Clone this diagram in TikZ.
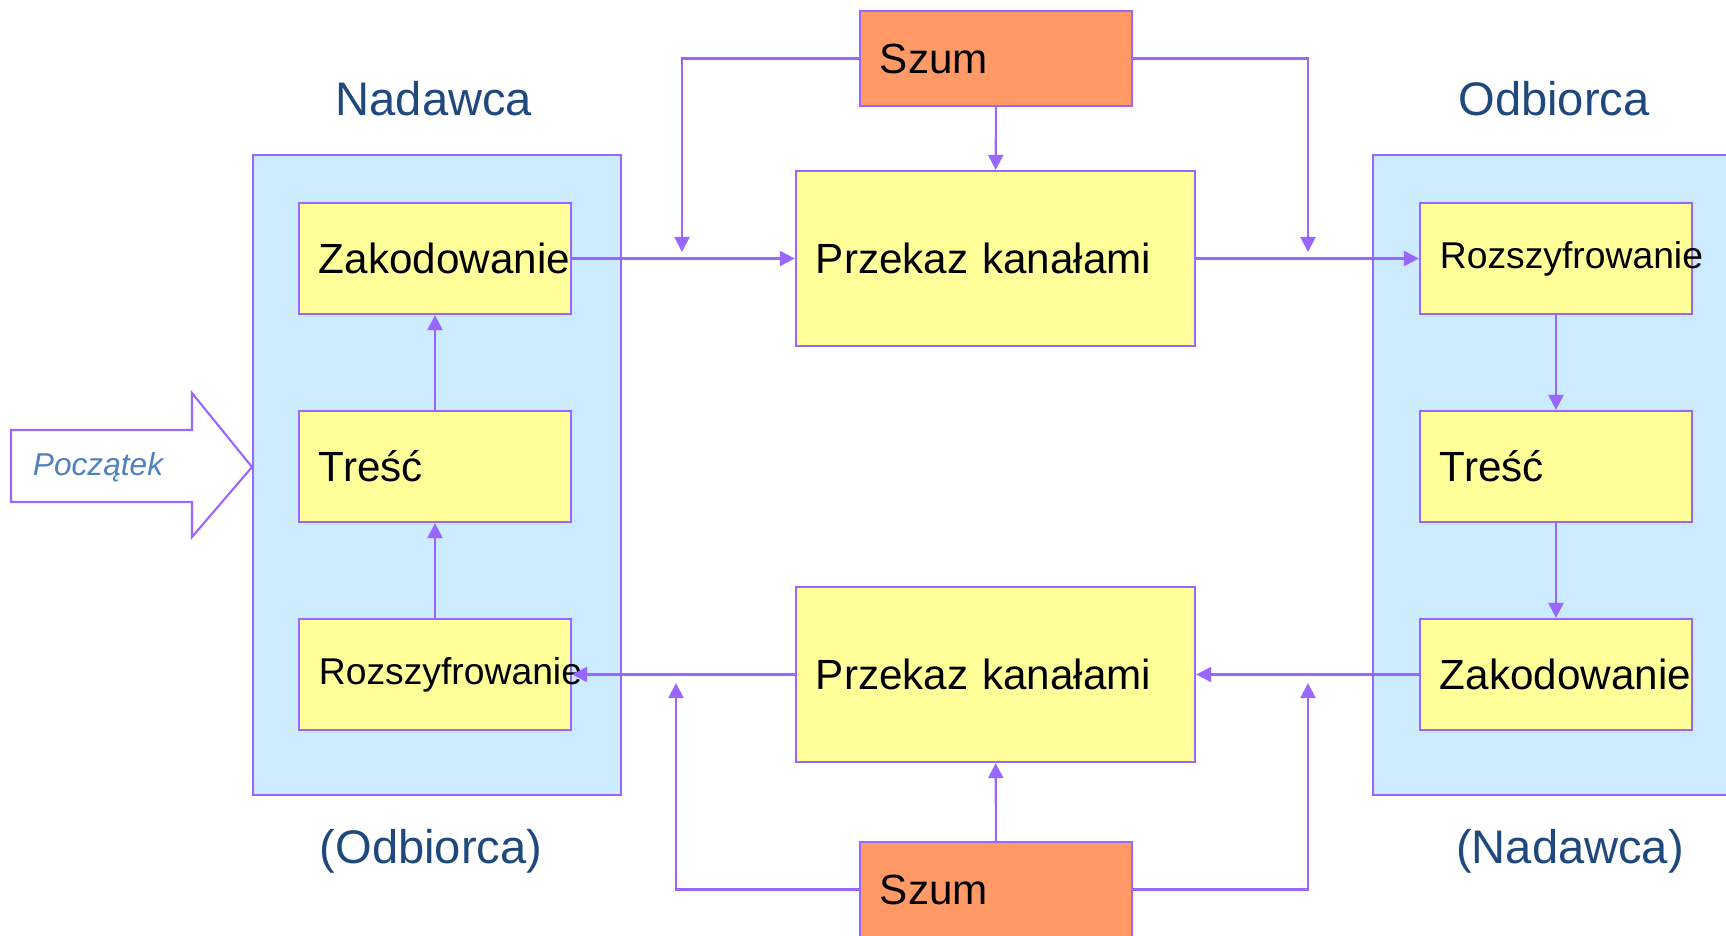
\documentclass[tikz,border=0pt]{standalone}
\usepackage{fontspec}
\setmainfont{Liberation Sans}
\usetikzlibrary{arrows.meta}

\definecolor{linia}{HTML}{9966FF}
\definecolor{panel}{HTML}{CCEBFF}
\definecolor{pole}{HTML}{FFFF99}
\definecolor{szumkol}{HTML}{FF9966}
\definecolor{tytul}{HTML}{1F497D}
\definecolor{startkol}{HTML}{4F81BD}

\begin{document}
\begin{tikzpicture}[x=0.01cm,y=-0.01cm,line width=0.6pt,
    >={Triangle[length=0.15cm,width=0.15cm]},
    panelbox/.style={draw=linia,fill=panel,anchor=north west,inner sep=0pt,
      minimum width=3.68cm,minimum height=6.4cm},
    krok/.style={draw=linia,fill=pole,minimum height=1.11cm,text width=2.32cm,
      inner xsep=0.2cm,inner ysep=0pt,align=left,font=\fontsize{12}{14}\selectfont},
    kanal/.style={krok,minimum height=1.75cm,text width=3.59cm},
    szumbox/.style={krok,fill=szumkol,minimum height=0.95cm},
    tytulek/.style={text=tytul,font=\fontsize{13.4}{16}\selectfont},
    strz/.style={draw=linia,->}]
  \useasboundingbox (0,0) rectangle (1726,936);
  \clip (0,0) rectangle (1726,936);

  % Panele nadawcy i odbiorcy
  \node[panelbox] (panelL) at (252,154) {};
  \node[panelbox] (panelR) at (1372,154) {};
  \node[tytulek] (nad) at (434,99) {Nadawca};
  \node[tytulek] (odb) at (1554,99) {Odbiorca};
  \node[tytulek] (odb2) at (431,851) {(Odbiorca)};
  \node[tytulek] (nad2) at (1570,851) {(Nadawca)};

  % Kroki po lewej
  \node[krok] (zakL) at (435,258.5) {Zakodowanie};
  \node[krok] (trescL) at (435,466.5) {Treść};
  \node[krok,font=\fontsize{10.6}{13}\selectfont] (rozL) at (435,674.5) {Rozszyfrowanie};
  % Kroki po prawej
  \node[krok,font=\fontsize{10.6}{13}\selectfont] (rozR) at (1556,258.5) {Rozszyfrowanie};
  \node[krok] (trescR) at (1556,466.5) {Treść};
  \node[krok] (zakR) at (1556,674.5) {Zakodowanie};

  % Kanaly i szum
  \node[kanal] (kanG) at (995.5,258.5) {Przekaz kanałami};
  \node[kanal] (kanD) at (995.5,674.5) {Przekaz kanałami};
  \node[szumbox] (szumG) at (996,58.5) {Szum};
  \node[szumbox] (szumD) at (996,889.5) {Szum};

  % Strzalka poczatku
  \draw[draw=linia,fill=white] (11,430) -- (192,430) -- (192,393) -- (252,467)
    -- (192,537) -- (192,502) -- (11,502) -- cycle;
  \node[text=startkol,font=\fontsize{9}{11}\selectfont\itshape] (start) at (98,467) {Początek};

  % Obieg wiadomosci
  \draw[strz] (trescL) -- (zakL);
  \draw[strz] (rozL) -- (trescL);
  \draw[strz] (zakL.east) -- (kanG.west);
  \draw[strz] (kanG.east) -- (rozR.west);
  \draw[strz] (rozR) -- (trescR);
  \draw[strz] (trescR) -- (zakR);
  \draw[strz] (zakR.west) -- (kanD.east);
  \draw[strz] (kanD.west) -- (rozL.east);

  % Wplyw szumu
  \coordinate (sG1) at (682,252);
  \coordinate (sG2) at (1308,252);
  \coordinate (sD1) at (676,683);
  \coordinate (sD2) at (1308,683);
  \draw[strz] (szumG) -- (kanG);
  \draw[strz] (szumD) -- (kanD);
  \draw[strz] (szumG.west) -| (sG1);
  \draw[strz] (szumG.east) -| (sG2);
  \draw[strz] (szumD.west) -| (sD1);
  \draw[strz] (szumD.east) -| (sD2);
\end{tikzpicture}
\end{document}
